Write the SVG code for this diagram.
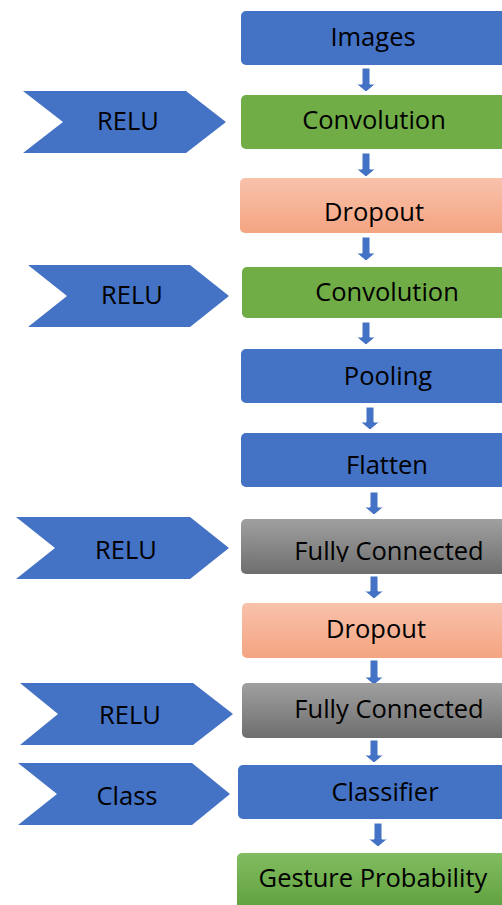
<svg xmlns="http://www.w3.org/2000/svg" width="502" height="905" viewBox="0 0 502 905">
<style>
  .blue{fill:#4472C4}
  .green{fill:#70AD47}
  .peach{fill:url(#gPeach)}
  .gray{fill:url(#gGray)}
  .ggreen{fill:url(#gGreen)}
  .lbl{font-family:"Open Sans","Noto Sans","Liberation Sans",sans-serif;font-size:25.5px;fill:#000;text-anchor:middle}
  .arrow{fill:#4472C4;stroke:#fff;stroke-width:1}
</style>
<defs>
  <linearGradient id="gPeach" x1="0" y1="0" x2="0" y2="1">
    <stop offset="0" stop-color="#F8C2AB"/>
    <stop offset="1" stop-color="#F4A481"/>
  </linearGradient>
  <linearGradient id="gGray" x1="0" y1="0" x2="0" y2="1">
    <stop offset="0" stop-color="#A0A0A0"/>
    <stop offset="1" stop-color="#6E6E6E"/>
  </linearGradient>
  <linearGradient id="gGreen" x1="0" y1="0" x2="0" y2="1">
    <stop offset="0" stop-color="#81BD60"/>
    <stop offset="1" stop-color="#5E9E3C"/>
  </linearGradient>
  <clipPath id="clipFC1"><rect x="240" y="519" width="280" height="43"/></clipPath>
</defs>

<g id="connectors">
  <path class="arrow" d="M362,68 H370 V84 H375.5 L366,92 L356.5,84 H362 Z"/>
  <path class="arrow" d="M362,153 H370 V169 H375.5 L366,177 L356.5,169 H362 Z"/>
  <path class="arrow" d="M362,237 H370 V253 H375.5 L366,261 L356.5,253 H362 Z"/>
  <path class="arrow" d="M362,322 H370 V337 H375.5 L366,345 L356.5,337 H362 Z"/>
  <path class="arrow" d="M366,407 H374 V422 H379.5 L370,430 L360.5,422 H366 Z"/>
  <path class="arrow" d="M370,492 H378 V507 H383.5 L374,515 L364.5,507 H370 Z"/>
  <path class="arrow" d="M370,576 H378 V591 H383.5 L374,599 L364.5,591 H370 Z"/>
  <path class="arrow" d="M370,660 H378 V677 H383.5 L374,685 L364.5,677 H370 Z"/>
  <path class="arrow" d="M370,740 H378 V755 H383.5 L374,763 L364.5,755 H370 Z"/>
  <path class="arrow" d="M374,823 H382 V839 H387.5 L378,847 L368.5,839 H374 Z"/>
</g>

<g id="relu1">
  <path class="blue" d="M23,91 H186 L226,122 L186,153 H23 L63,122 Z"/>
  <text class="lbl" x="128" y="130">RELU</text>
</g>
<g id="relu2">
  <path class="blue" d="M28,265 H190 L229,296 L190,327 H28 L67,296 Z"/>
  <text class="lbl" x="132" y="304">RELU</text>
</g>
<g id="relu3">
  <path class="blue" d="M16,517 H190 L229,548 L190,579 H16 L55,548 Z"/>
  <text class="lbl" x="126" y="559">RELU</text>
</g>
<g id="relu4">
  <path class="blue" d="M20,683 H193 L233,714 L193,745 H20 L58,714 Z"/>
  <text class="lbl" x="130" y="724">RELU</text>
</g>
<g id="class">
  <path class="blue" d="M18,763 H192 L230,794 L192,825 H18 L57,794 Z"/>
  <text class="lbl" x="127" y="805">Class</text>
</g>

<g id="images">
  <rect class="blue" x="241" y="11" width="280" height="54" rx="5"/>
  <text class="lbl" x="373" y="46">Images</text>
</g>
<g id="conv1">
  <rect class="green" x="241" y="95" width="280" height="54" rx="5"/>
  <text class="lbl" x="374" y="129">Convolution</text>
</g>
<g id="dropout1">
  <rect class="peach" x="240" y="178" width="280" height="55" rx="5"/>
  <text class="lbl" x="374" y="221">Dropout</text>
</g>
<g id="conv2">
  <rect class="green" x="242" y="267" width="280" height="51" rx="5"/>
  <text class="lbl" x="387" y="301">Convolution</text>
</g>
<g id="pooling">
  <rect class="blue" x="241" y="349" width="280" height="54" rx="5"/>
  <text class="lbl" x="388" y="385">Pooling</text>
</g>
<g id="flatten">
  <rect class="blue" x="241" y="433" width="280" height="54" rx="5"/>
  <text class="lbl" x="387" y="474">Flatten</text>
</g>
<g id="fc1">
  <rect class="gray" x="241" y="519" width="280" height="55" rx="5"/>
  <text class="lbl" x="389" y="560" clip-path="url(#clipFC1)">Fully Connected</text>
</g>
<g id="dropout2">
  <rect class="peach" x="242" y="603" width="280" height="55" rx="5"/>
  <text class="lbl" x="376" y="638">Dropout</text>
</g>
<g id="fc2">
  <rect class="gray" x="242" y="683" width="280" height="55" rx="5"/>
  <text class="lbl" x="389" y="718">Fully Connected</text>
</g>
<g id="classifier">
  <rect class="blue" x="238" y="765" width="280" height="54" rx="5"/>
  <text class="lbl" x="385" y="801">Classifier</text>
</g>
<g id="gesture">
  <rect class="ggreen" x="237" y="853" width="280" height="60" rx="5"/>
  <text class="lbl" x="373" y="887">Gesture Probability</text>
</g>
</svg>
